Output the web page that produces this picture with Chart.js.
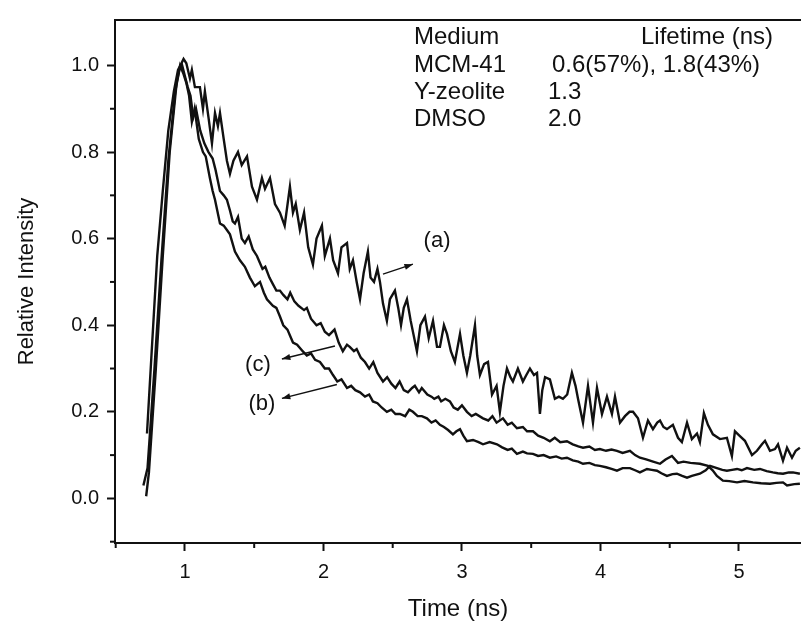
<!DOCTYPE html>
<html>
<head>
<meta charset="utf-8">
<script src="https://cdn.jsdelivr.net/npm/chart.js@4.4.1/dist/chart.umd.min.js"></script>
<style>
  html, body { margin: 0; padding: 0; background: #fff; }
  #wrap { width: 801px; height: 625px; position: relative; }
</style>
</head>
<body>
<div id="wrap"><canvas id="decayChart"></canvas></div>
<script>
// curve (a) - DMSO
const timeA = [0.726,0.76,0.80,0.84,0.88,0.92,0.95,0.975,0.99,1.01,1.036,1.05,1.072,1.108,1.13,1.144,1.17,1.195,1.217,1.238,1.253,1.28,1.303,1.325,1.35,1.383,1.41,1.448,1.484,1.52,1.556,1.578,1.614,1.65,1.686,1.72,1.758,1.78,1.80,1.83,1.86,1.89,1.924,1.95,1.989,2.01,2.047,2.07,2.105,2.13,2.17,2.19,2.213,2.24,2.264,2.29,2.321,2.34,2.365,2.39,2.408,2.43,2.458,2.48,2.516,2.54,2.56,2.58,2.603,2.63,2.675,2.70,2.733,2.76,2.791,2.82,2.841,2.87,2.892,2.92,2.949,2.986,3.01,3.036,3.06,3.094,3.11,3.13,3.16,3.188,3.217,3.25,3.274,3.30,3.325,3.35,3.368,3.404,3.44,3.465,3.491,3.52,3.542,3.563,3.58,3.60,3.635,3.671,3.70,3.729,3.76,3.794,3.82,3.838,3.874,3.91,3.946,3.975,4.011,4.047,4.083,4.105,4.141,4.177,4.21,4.235,4.271,4.307,4.343,4.379,4.41,4.43,4.455,4.48,4.523,4.56,4.588,4.625,4.66,4.697,4.718,4.747,4.776,4.812,4.863,4.913,4.949,4.971,5.007,5.043,5.094,5.13,5.166,5.188,5.224,5.26,5.282,5.318,5.347,5.383,5.41,5.44];
const intensityA = [0.15,0.34,0.56,0.71,0.85,0.94,0.99,1.005,1.015,1.005,0.97,0.99,0.95,0.95,0.90,0.94,0.88,0.82,0.89,0.86,0.89,0.83,0.78,0.75,0.78,0.80,0.77,0.79,0.72,0.69,0.74,0.715,0.74,0.68,0.66,0.63,0.72,0.66,0.68,0.62,0.66,0.58,0.54,0.60,0.63,0.56,0.60,0.55,0.52,0.58,0.59,0.53,0.55,0.50,0.46,0.52,0.57,0.51,0.50,0.53,0.50,0.45,0.41,0.46,0.48,0.44,0.40,0.44,0.46,0.41,0.34,0.40,0.42,0.37,0.41,0.35,0.35,0.40,0.38,0.34,0.315,0.38,0.33,0.29,0.33,0.40,0.33,0.285,0.31,0.315,0.24,0.26,0.20,0.26,0.30,0.28,0.27,0.30,0.27,0.285,0.30,0.285,0.29,0.195,0.25,0.28,0.275,0.23,0.235,0.23,0.24,0.29,0.26,0.23,0.175,0.26,0.175,0.255,0.195,0.235,0.195,0.235,0.175,0.19,0.20,0.20,0.185,0.14,0.18,0.16,0.175,0.18,0.165,0.16,0.17,0.14,0.13,0.175,0.137,0.15,0.13,0.197,0.17,0.148,0.137,0.14,0.098,0.155,0.144,0.133,0.10,0.11,0.125,0.133,0.11,0.114,0.125,0.087,0.117,0.094,0.11,0.117];

// curve (c) - MCM-41
const timeC = [0.70,0.73,0.78,0.83,0.88,0.93,0.96,0.98,1.00,1.02,1.04,1.06,1.08,1.11,1.14,1.17,1.20,1.22,1.253,1.28,1.303,1.325,1.345,1.361,1.383,1.41,1.433,1.46,1.49,1.52,1.54,1.56,1.58,1.61,1.635,1.66,1.686,1.71,1.74,1.76,1.79,1.82,1.86,1.88,1.91,1.95,1.98,2.01,2.04,2.08,2.11,2.14,2.17,2.19,2.22,2.24,2.27,2.30,2.33,2.36,2.39,2.43,2.46,2.49,2.52,2.55,2.58,2.61,2.64,2.66,2.69,2.71,2.75,2.78,2.80,2.83,2.85,2.88,2.913,2.94,2.97,3.00,3.036,3.07,3.10,3.152,3.19,3.22,3.25,3.296,3.33,3.36,3.397,3.44,3.47,3.513,3.55,3.59,3.635,3.67,3.71,3.758,3.80,3.84,3.874,3.92,3.96,3.996,4.04,4.08,4.119,4.16,4.213,4.25,4.285,4.33,4.38,4.43,4.47,4.516,4.56,4.60,4.65,4.718,4.776,4.81,4.841,4.884,4.93,4.986,5.04,5.101,5.16,5.224,5.27,5.318,5.347,5.40,5.44];
const intensityC = [0.03,0.07,0.30,0.55,0.78,0.94,0.99,1.0,0.975,0.95,0.93,0.88,0.90,0.85,0.82,0.80,0.785,0.76,0.71,0.70,0.69,0.665,0.64,0.635,0.65,0.60,0.59,0.605,0.575,0.56,0.545,0.53,0.535,0.51,0.495,0.48,0.48,0.47,0.46,0.475,0.455,0.445,0.435,0.44,0.415,0.40,0.405,0.385,0.377,0.39,0.36,0.34,0.355,0.35,0.34,0.345,0.325,0.315,0.30,0.315,0.29,0.27,0.28,0.265,0.255,0.27,0.25,0.245,0.255,0.26,0.245,0.255,0.24,0.235,0.23,0.235,0.224,0.23,0.224,0.21,0.205,0.215,0.20,0.19,0.195,0.185,0.18,0.19,0.175,0.185,0.17,0.175,0.162,0.165,0.155,0.155,0.145,0.14,0.132,0.14,0.13,0.132,0.125,0.12,0.117,0.12,0.112,0.114,0.11,0.113,0.11,0.105,0.11,0.10,0.094,0.09,0.085,0.08,0.09,0.098,0.082,0.085,0.082,0.08,0.075,0.065,0.052,0.041,0.04,0.037,0.04,0.037,0.035,0.034,0.036,0.037,0.03,0.033,0.034];

// curve (b) - Y-zeolite
const timeB = [0.72,0.74,0.79,0.84,0.89,0.94,0.965,0.99,1.01,1.03,1.05,1.07,1.10,1.13,1.15,1.18,1.20,1.217,1.253,1.28,1.303,1.325,1.361,1.397,1.433,1.469,1.505,1.542,1.57,1.592,1.635,1.66,1.686,1.71,1.74,1.78,1.81,1.85,1.88,1.91,1.94,1.975,2.01,2.04,2.069,2.10,2.13,2.17,2.20,2.23,2.264,2.30,2.33,2.357,2.39,2.42,2.458,2.49,2.52,2.552,2.59,2.62,2.646,2.68,2.71,2.747,2.78,2.81,2.841,2.87,2.90,2.935,2.96,2.986,3.01,3.036,3.08,3.12,3.152,3.20,3.253,3.29,3.33,3.36,3.397,3.44,3.47,3.513,3.55,3.59,3.635,3.68,3.72,3.758,3.80,3.84,3.874,3.92,3.96,3.996,4.04,4.08,4.119,4.16,4.213,4.25,4.285,4.336,4.37,4.408,4.44,4.48,4.52,4.552,4.59,4.625,4.66,4.718,4.76,4.791,4.841,4.88,4.913,4.95,4.986,5.02,5.058,5.11,5.152,5.20,5.245,5.28,5.318,5.36,5.39,5.44];
const intensityB = [0.005,0.06,0.30,0.56,0.80,0.96,1.0,0.98,0.96,0.93,0.87,0.90,0.83,0.80,0.79,0.74,0.71,0.69,0.635,0.63,0.62,0.61,0.57,0.55,0.535,0.51,0.49,0.50,0.475,0.46,0.445,0.44,0.42,0.40,0.39,0.36,0.355,0.34,0.33,0.335,0.32,0.315,0.30,0.30,0.285,0.27,0.275,0.255,0.26,0.25,0.245,0.235,0.24,0.224,0.22,0.21,0.20,0.205,0.195,0.195,0.19,0.205,0.20,0.19,0.19,0.185,0.175,0.18,0.17,0.165,0.158,0.148,0.155,0.16,0.145,0.132,0.135,0.13,0.125,0.13,0.125,0.118,0.112,0.115,0.103,0.108,0.104,0.103,0.098,0.1,0.094,0.097,0.092,0.094,0.088,0.085,0.08,0.082,0.077,0.075,0.072,0.068,0.064,0.07,0.07,0.065,0.06,0.068,0.066,0.064,0.058,0.052,0.056,0.057,0.052,0.048,0.052,0.057,0.065,0.075,0.07,0.066,0.064,0.066,0.068,0.065,0.07,0.066,0.068,0.063,0.06,0.058,0.057,0.06,0.06,0.057];

const xTicks = [1, 2, 3, 4, 5];
const yTicks = [0, 0.2, 0.4, 0.6, 0.8, 1.0];
const xMinor = [0.5, 1.5, 2.5, 3.5, 4.5];
const yMinor = [-0.1, 0.1, 0.3, 0.5, 0.7, 0.9];

const tableHead = ["Medium", "Lifetime (ns)"];
const media = ["MCM-41", "Y-zeolite", "DMSO"];
const lifetimes = ["0.6(57%), 1.8(43%)", "1.3", "2.0"];

// arrow labels: [label, textX, textY, fromX, fromY, toX, toY] in data units
const curveLabels = [
  ["(a)", 2.82, 0.594, 2.43, 0.518, 2.646, 0.541],
  ["(c)", 1.527, 0.308, 2.083, 0.352, 1.70, 0.322],
  ["(b)", 1.556, 0.219, 2.097, 0.263, 1.70, 0.231]
];

const FONT = "'Liberation Sans', Arial, Helvetica, sans-serif";
const INK = "#111";

function toPoints(xs, ys) {
  return xs.map((x, i) => ({ x: x, y: ys[i] }));
}

const extras = {
  id: "extras",
  afterDraw(chart) {
    const ctx = chart.ctx;
    const area = chart.chartArea;
    const sx = chart.scales.x, sy = chart.scales.y;
    ctx.save();
    ctx.strokeStyle = INK;
    ctx.fillStyle = INK;

    // top frame
    ctx.lineWidth = 2;
    ctx.beginPath();
    ctx.moveTo(area.left, area.top);
    ctx.lineTo(area.right, area.top);
    ctx.stroke();

    // minor ticks
    xMinor.forEach(v => {
      const px = sx.getPixelForValue(v);
      if (px < area.left - 1 || px > area.right) return;
      ctx.beginPath();
      ctx.moveTo(px, area.bottom);
      ctx.lineTo(px, area.bottom + 5);
      ctx.stroke();
    });
    yMinor.forEach(v => {
      const py = sy.getPixelForValue(v);
      ctx.beginPath();
      ctx.moveTo(area.left, py);
      ctx.lineTo(area.left - 5, py);
      ctx.stroke();
    });

    // lifetime table
    ctx.font = "24px " + FONT;
    ctx.textBaseline = "middle";
    ctx.textAlign = "left";
    ctx.fillText(tableHead[0], 414, 37);
    ctx.textAlign = "right";
    ctx.fillText(tableHead[1], 773, 37);
    ctx.textAlign = "left";
    media.forEach((m, i) => {
      const y = 65 + i * 27;
      ctx.fillText(m, 414, y);
      ctx.fillText(lifetimes[i], i === 0 ? 552 : 548, y);
    });

    // curve labels with arrows
    ctx.font = "22px " + FONT;
    ctx.textAlign = "center";
    ctx.lineWidth = 1.4;
    curveLabels.forEach(l => {
      ctx.fillText(l[0], sx.getPixelForValue(l[1]), sy.getPixelForValue(l[2]));
      const x0 = sx.getPixelForValue(l[3]), y0 = sy.getPixelForValue(l[4]);
      const x1 = sx.getPixelForValue(l[5]), y1 = sy.getPixelForValue(l[6]);
      ctx.beginPath();
      ctx.moveTo(x0, y0);
      ctx.lineTo(x1, y1);
      ctx.stroke();
      const ang = Math.atan2(y1 - y0, x1 - x0);
      ctx.beginPath();
      ctx.moveTo(x1, y1);
      ctx.lineTo(x1 - 9 * Math.cos(ang - 0.35), y1 - 9 * Math.sin(ang - 0.35));
      ctx.lineTo(x1 - 9 * Math.cos(ang + 0.35), y1 - 9 * Math.sin(ang + 0.35));
      ctx.closePath();
      ctx.fill();
    });
    ctx.restore();
  }
};

const lineStyle = { borderColor: INK, borderWidth: 2.4, pointRadius: 0, tension: 0, fill: false };

new Chart(document.getElementById("decayChart"), {
  type: "line",
  data: {
    datasets: [
      Object.assign({ label: "(a)", data: toPoints(timeA, intensityA) }, lineStyle),
      Object.assign({ label: "(b)", data: toPoints(timeB, intensityB) }, lineStyle),
      Object.assign({ label: "(c)", data: toPoints(timeC, intensityC) }, lineStyle)
    ]
  },
  options: {
    responsive: true,
    maintainAspectRatio: false,
    animation: false,
    layout: { padding: { top: 14, right: 0, left: 0, bottom: 0 } },
    plugins: { legend: { display: false }, tooltip: { enabled: false } },
    scales: {
      x: {
        type: "linear",
        min: 0.495,
        max: 5.448,
        afterBuildTicks: s => { s.ticks = xTicks.map(v => ({ value: v })); },
        afterFit: s => { s.height = 82; },
        ticks: { color: INK, font: { family: FONT, size: 20 }, padding: 9, maxRotation: 0, callback: v => String(v) },
        grid: { drawOnChartArea: false, drawTicks: true, tickLength: 8, tickColor: INK, tickWidth: 2 },
        border: { color: INK, width: 2 },
        title: { display: true, text: "Time (ns)", color: INK, font: { family: FONT, size: 24 }, padding: { top: 0, bottom: 1 } }
      },
      y: {
        min: -0.103,
        max: 1.105,
        afterBuildTicks: s => { s.ticks = yTicks.map(v => ({ value: v })); },
        afterFit: s => { s.width = 115; },
        ticks: { color: INK, font: { family: FONT, size: 20 }, padding: 8, callback: v => v.toFixed(1) },
        grid: { drawOnChartArea: false, drawTicks: true, tickLength: 8, tickColor: INK, tickWidth: 2 },
        border: { color: INK, width: 2 },
        title: { display: true, text: "Relative Intensity", color: INK, font: { family: FONT, size: 22 }, padding: { top: 14, bottom: 0 } }
      }
    }
  },
  plugins: [extras]
});
</script>
</body>
</html>
